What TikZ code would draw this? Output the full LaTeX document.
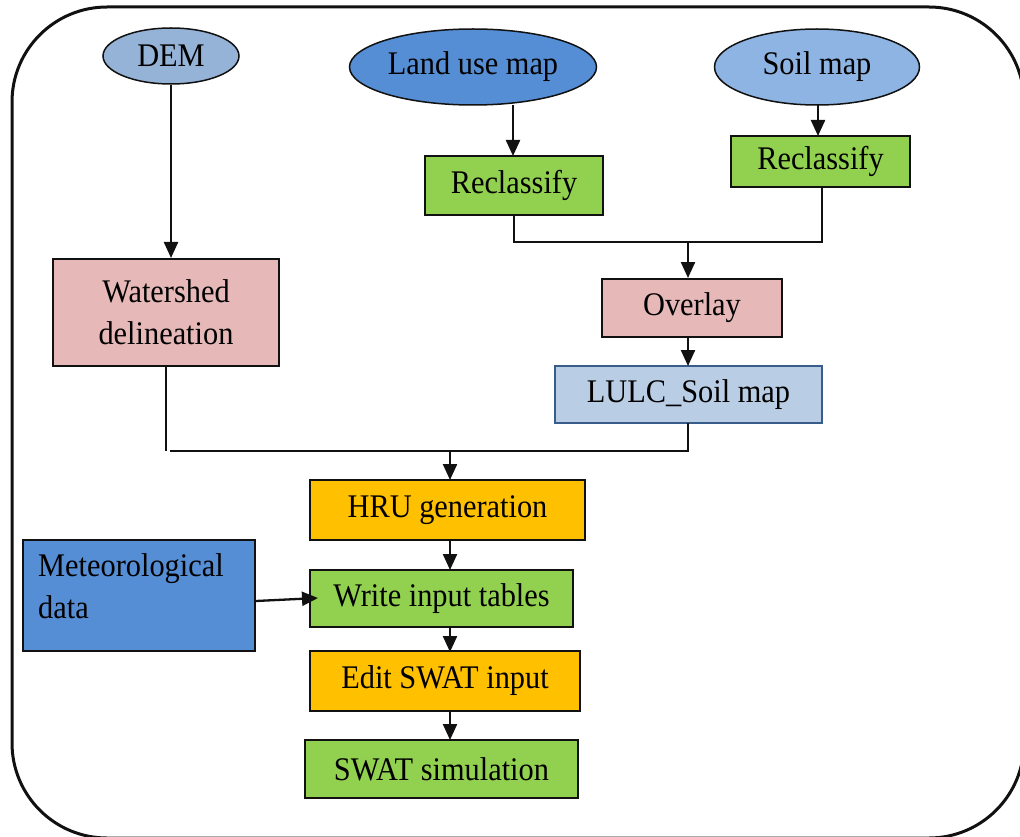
\documentclass[tikz,border=0pt]{standalone}
\usepackage{fontspec}
\setmainfont{Liberation Serif}[FakeStretch=0.92]
\usetikzlibrary{arrows.meta,shapes.geometric}
\definecolor{demblue}{HTML}{95B3D7}
\definecolor{landblue}{HTML}{558ED5}
\definecolor{soilblue}{HTML}{8DB4E2}
\definecolor{boxgreen}{HTML}{92D050}
\definecolor{boxpink}{HTML}{E6B9B8}
\definecolor{boxorange}{HTML}{FFC000}
\definecolor{lulcfill}{HTML}{B9CDE5}
\definecolor{lulcdraw}{HTML}{385D8A}
\definecolor{lineblack}{HTML}{111111}
\tikzset{
  every node/.style={font=\fontsize{33}{40}\selectfont, text=black},
  ellnode/.style={ellipse, draw=lineblack, line width=1.5pt, inner sep=0pt},
  boxnode/.style={rectangle, draw=lineblack, line width=2pt, inner sep=0pt, align=center},
  conn/.style={draw=lineblack, line width=2.3pt},
  arr/.style={conn, -{Triangle[length=16pt,width=14pt]}},
}
\begin{document}
\begin{tikzpicture}[x=1pt,y=-1pt]
\useasboundingbox (0,0) rectangle (1020,837);
\begin{scope}
\clip (0,0) rectangle (1020,837);
\draw[line width=3pt, lineblack, rounded corners=95pt] (12,7) rectangle (1024,838);
\end{scope}
% ellipses
\node[ellnode, fill=demblue, minimum width=136pt, minimum height=56pt] (dem) at (171,56) {DEM};
\node[ellnode, fill=landblue, minimum width=247pt, minimum height=76pt] (land) at (473,67) {Land use map};
\node[ellnode, fill=soilblue, minimum width=205pt, minimum height=76pt] (soil) at (817,67) {Soil map};
% boxes
\node[boxnode, fill=boxgreen, minimum width=178pt, minimum height=59pt] (rc1) at (514,185.5) {Reclassify};
\node[boxnode, fill=boxgreen, minimum width=179pt, minimum height=51pt] (rc2) at (820.5,161.5) {Reclassify};
\node[boxnode, fill=boxpink, minimum width=226pt, minimum height=107pt, align=center] (ws) at (166,312.5) {Watershed\\[2pt]delineation};
\node[boxnode, fill=boxpink, minimum width=180pt, minimum height=58pt] (ov) at (692,308) {Overlay};
\node[boxnode, fill=lulcfill, draw=lulcdraw, line width=1.5pt, minimum width=267pt, minimum height=57pt] (lulc) at (688.5,394.5) {LULC\_Soil map};
\node[boxnode, fill=boxorange, minimum width=275pt, minimum height=60pt] (hru) at (447.5,510) {HRU generation};
\node[boxnode, fill=boxgreen, minimum width=263pt, minimum height=57pt] (wit) at (441.5,598.5) {Write input tables};
\node[boxnode, fill=landblue, minimum width=232pt, minimum height=111pt] (met) at (139,595.5) {};
\node[anchor=north west, align=left, inner sep=0pt] (mettext) at (38,553) {Meteorological\\[2pt]data};
\node[boxnode, fill=boxorange, minimum width=270pt, minimum height=60pt] (edit) at (445,681) {Edit SWAT input};
\node[boxnode, fill=boxgreen, minimum width=273pt, minimum height=58pt] (sim) at (441.5,769) {SWAT simulation};
% junction coordinates
\coordinate (j1) at (514,242);
\coordinate (j2) at (822,242);
\coordinate (j3) at (688,242);
\coordinate (k1) at (166,451);
\coordinate (k2) at (688,451);
\coordinate (k3) at (450,451);
% connectors
\draw[arr] (dem.south) -- (dem.south |- ws.north);
\draw[arr] (513,105) -- (513,156);
\draw[arr] (818,105) -- (818,136);
\draw[conn] (rc1.south) -- (j1) -- (j2) -- (j2 |- rc2.south);
\draw[arr] (j3) -- (j3 |- ov.north);
\draw[arr] (688,337) -- (688,366);
\draw[conn, line width=1.5pt] (ws.south) -- (k1);
\draw[conn] (170,451) -- (k2) -- (688,423);
\draw[arr] (k3) -- (450,480);
\draw[arr] (450,540) -- (450,570);
\draw[arr] (met.east |- 0,601) -- (318,598);
\draw[arr] (450,627) -- (450,652);
\draw[arr] (450,711) -- (450,740);
\end{tikzpicture}
\end{document}
